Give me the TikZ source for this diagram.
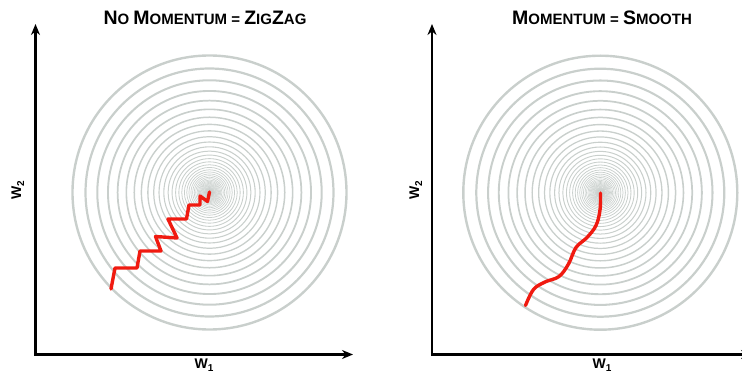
\documentclass[tikz,border=0pt]{standalone}
\usepackage{fontspec}
\setmainfont{Liberation Sans}
\usepackage{tikz}
\usetikzlibrary{arrows.meta}

\definecolor{ringgray}{RGB}{201,207,204}
\definecolor{trailred}{RGB}{240,26,16}

\newcommand{\tcap}[1]{{\fontsize{19.5}{19.5}\selectfont #1}}
\newcommand{\wlabel}[1]{W\raisebox{-3pt}{\fontsize{10}{10}\selectfont #1}}

\begin{document}
\begin{tikzpicture}[x=1pt, y=-1pt, >={Stealth[length=11pt,width=9pt]}, line width=2.6pt,
    every node/.style={font=\bfseries, inner sep=0pt},
    ring/.style={draw=ringgray},
    trail/.style={draw=trailred, line width=3.4pt, line join=round, line cap=round},
    title/.style={anchor=base, font=\bfseries\fontsize{15}{15}\selectfont},
    axislabel/.style={anchor=base, font=\bfseries\fontsize{14}{14}\selectfont}]
  \useasboundingbox (0,0) rectangle (742,377);
  \clip (0,0) rectangle (742,377);

  % left: no momentum
  \coordinate (c1) at (209.5,192.5);
  \foreach \k in {0,...,44} {
    \pgfmathsetmacro{\r}{137*0.905^\k}
    \pgfmathsetmacro{\lw}{0.4+2.0*\r/137}
    \draw[ring, line width=\lw pt] (c1) circle[radius=\r pt];
  }
  \coordinate (o1) at (35.5,354.5);
  \coordinate (x1) at (353,354.5);
  \coordinate (y1) at (35.5,24);
  \draw[<->, line join=miter] (y1) -- (o1) -- (x1);
  \draw[trail] (111,289) -- (115,268) -- (137,268) -- (140,251) -- (161,251)
    -- (155.5,236.5) -- (177,238) -- (168,219) -- (186.5,219) -- (189,205)
    -- (200,205) -- (200,196) -- (207.5,201.5) -- (209.5,192);
  \node[title] (t1) at (205,25) {\tcap{N}O \tcap{M}OMENTUM = \tcap{Z}IG\tcap{Z}AG};
  \node[axislabel] (w11) at (204,368.5) {\wlabel{1}};
  \node[axislabel, rotate=90] (w12) at (21,190) {\wlabel{2}};

  % right: momentum
  \coordinate (c2) at (600.3,192.7);
  \foreach \k in {0,...,44} {
    \pgfmathsetmacro{\r}{137*0.905^\k}
    \pgfmathsetmacro{\lw}{0.4+2.0*\r/137}
    \draw[ring, line width=\lw pt] (c2) circle[radius=\r pt];
  }
  \coordinate (o2) at (432,354.5);
  \coordinate (x2) at (752,354.5);
  \coordinate (y2) at (432,24);
  \draw[<->, line join=miter] (y2) -- (o2) -- (x2);
  \draw[trail] plot[smooth, tension=0.6] coordinates {(525.5,305.5) (533.5,289.5)
    (545,282) (559,276.5) (568.5,264) (576,247.5) (587,237.5) (596,225.5)
    (600,210) (600.5,193)};
  \node[title] (t2) at (602,25) {\tcap{M}OMENTUM = \tcap{S}MOOTH};
  \node[axislabel] (w21) at (602,368.5) {\wlabel{1}};
  \node[axislabel, rotate=90] (w22) at (419,190) {\wlabel{2}};
\end{tikzpicture}
\end{document}
